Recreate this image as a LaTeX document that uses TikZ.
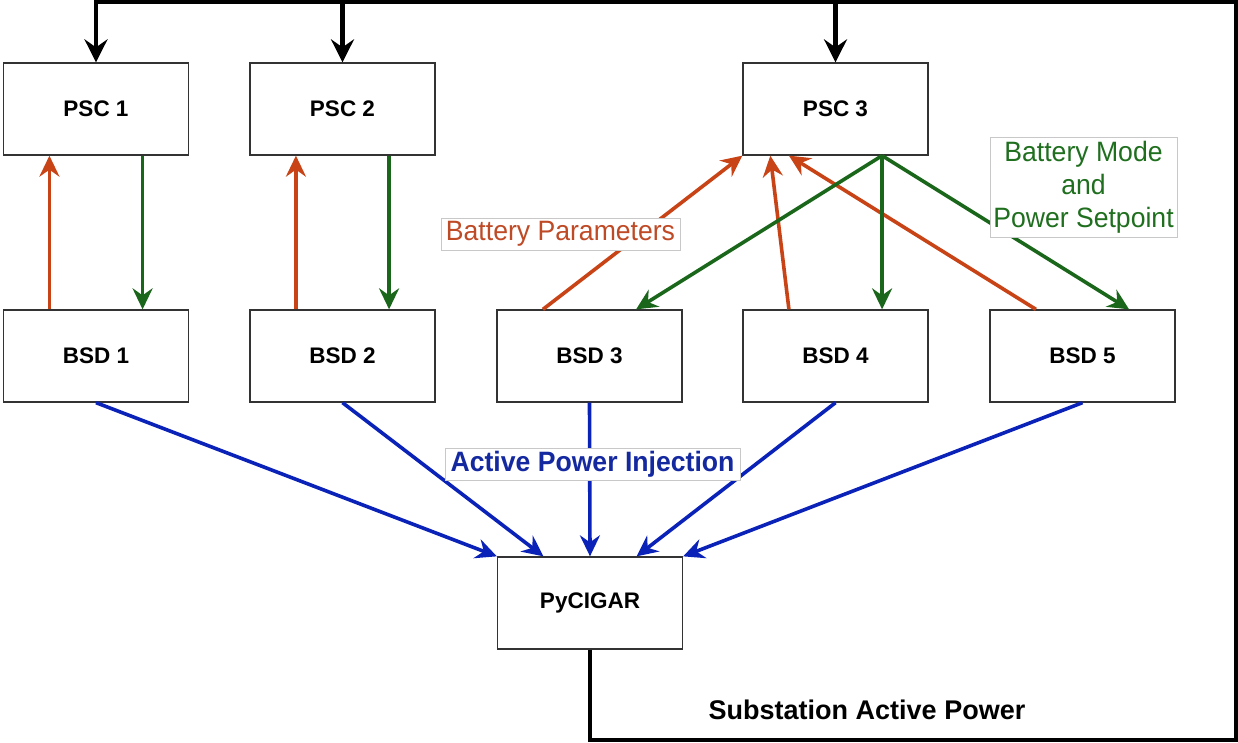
\documentclass[tikz,border=0pt]{standalone}
\usepackage{fontspec}
\setmainfont{Liberation Sans}
\newfontfamily\labfont[FakeStretch=0.95]{Liberation Sans}
\usetikzlibrary{arrows.meta,calc}
\definecolor{cred}{HTML}{C84315}
\definecolor{cgreen}{HTML}{1A661A}
\definecolor{cblue}{HTML}{0A22B8}
\definecolor{tred}{HTML}{BF4A26}
\definecolor{tgreen}{HTML}{1F6F1F}
\definecolor{tblue}{HTML}{1429A0}
\definecolor{boxgray}{HTML}{333333}
\definecolor{labgray}{HTML}{C8C8C8}
\begin{document}
\begin{tikzpicture}[x=1pt,y=-1pt,
  box/.style={draw=boxgray,line width=1.3pt,fill=white,minimum width=185pt,minimum height=92pt,inner sep=0pt,font=\fontsize{22.5}{26}\selectfont\bfseries},
  blk/.style={line width=4.5pt,-{Stealth[length=23pt,width=23pt,inset=8pt]}},
  carrow/.style={line width=3.6pt,-{Stealth[length=21pt,width=20pt,inset=7pt]}},
  redarr/.style={carrow,draw=cred},
  grnarr/.style={carrow,draw=cgreen},
  bluarr/.style={carrow,draw=cblue},
  lab/.style={draw=labgray,line width=0.8pt,fill=white,inner sep=0pt,font=\labfont\fontsize{28}{33}\selectfont,align=center}
]
\useasboundingbox (0,0) rectangle (1238,742);
% boxes
\node[box] (psc1) at (96,109) {PSC 1};
\node[box] (psc2) at (342.5,109) {PSC 2};
\node[box] (psc3) at (835.5,109) {PSC 3};
\node[box] (bsd1) at (96,356) {BSD 1};
\node[box] (bsd2) at (342.5,356) {BSD 2};
\node[box] (bsd3) at (589.5,356) {BSD 3};
\node[box] (bsd4) at (835.5,356) {BSD 4};
\node[box] (bsd5) at (1082.5,356) {BSD 5};
\node[box] (pyc) at (590,603) {PyCIGAR};
% black feedback loop
\coordinate (c1) at (1236,740);
\coordinate (c2) at (1236,2);
\draw[blk] (pyc.south) |- (c1) -- (c2) -| (psc1.north);
\draw[blk] (psc2.north |- c2) -- (psc2.north);
\draw[blk] (psc3.north |- c2) -- (psc3.north);
% PSC1 / PSC2 loops
\draw[redarr] ($(bsd1.north west)!0.25!(bsd1.north east)$) -- ($(psc1.south west)!0.25!(psc1.south east)$);
\draw[grnarr] ($(psc1.south west)!0.75!(psc1.south east)$) -- ($(bsd1.north west)!0.75!(bsd1.north east)$);
\draw[redarr] ($(bsd2.north west)!0.25!(bsd2.north east)$) -- ($(psc2.south west)!0.25!(psc2.south east)$);
\draw[grnarr] ($(psc2.south west)!0.75!(psc2.south east)$) -- ($(bsd2.north west)!0.75!(bsd2.north east)$);
% PSC3 links
\draw[redarr] ($(bsd3.north west)!0.25!(bsd3.north east)$) -- (psc3.south west);
\draw[redarr] ($(bsd4.north west)!0.25!(bsd4.north east)$) -- ($(psc3.south west)!0.15!(psc3.south east)$);
\draw[redarr] ($(bsd5.north west)!0.25!(bsd5.north east)$) -- ($(psc3.south west)!0.25!(psc3.south east)$);
\coordinate (g0) at ($(psc3.south west)!0.75!(psc3.south east)$);
\draw[grnarr] (g0) -- ($(bsd3.north west)!0.75!(bsd3.north east)$);
\draw[grnarr] (g0) -- ($(bsd4.north west)!0.75!(bsd4.north east)$);
\draw[grnarr] (g0) -- ($(bsd5.north west)!0.75!(bsd5.north east)$);
% active power to PyCIGAR
\draw[bluarr] (bsd1.south) -- (pyc.north west);
\draw[bluarr] (bsd2.south) -- ($(pyc.north west)!0.25!(pyc.north east)$);
\draw[bluarr] (bsd3.south) -- (pyc.north);
\draw[bluarr] (bsd4.south) -- ($(pyc.north west)!0.75!(pyc.north east)$);
\draw[bluarr] (bsd5.south) -- (pyc.north east);
% labels
\node[lab,text=tred,minimum width=239pt,minimum height=32pt] (lbp) at (560.5,234) {Battery Parameters};
\node[lab,text=tblue,font=\labfont\fontsize{28}{33}\selectfont\bfseries,minimum width=295pt,minimum height=32pt] (lapi) at (592.5,464) {Active Power Injection};
\node[lab,text=tgreen,minimum width=187pt,minimum height=100pt] (lbm) at (1083.5,187) {Battery Mode\\and\\Power Setpoint};
\node[font=\fontsize{27}{32}\selectfont\bfseries,inner sep=0pt] (lsap) at (867,710) {Substation Active Power};
\end{tikzpicture}
\end{document}
